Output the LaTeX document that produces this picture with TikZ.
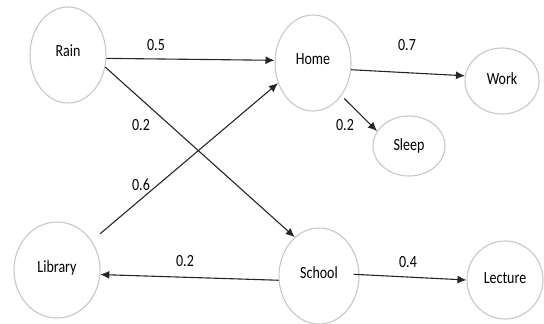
\documentclass[tikz,border=0pt]{standalone}
\usepackage{fontspec}
\usepackage{graphicx}
\setmainfont{Carlito}
\usetikzlibrary{shapes.geometric,arrows.meta}
\newcommand{\tall}[1]{\scalebox{1}[1.22]{#1}}
\begin{document}
\begin{tikzpicture}[x=1pt,y=-1pt,
  state/.style={ellipse,draw=black!22,line width=1.1pt,inner sep=0pt,font=\fontsize{14}{16}\selectfont},
  link/.style={draw=black!85,line width=1.1pt,-{Latex[length=9pt,width=8pt]}},
  wt/.style={font=\fontsize{14}{16}\selectfont,inner sep=0pt}]
\useasboundingbox (0,0) rectangle (544,324);
\node[state,minimum width=76pt,minimum height=96pt] (rain) at (68,55) {\raisebox{8pt}{\tall{Rain}}};
\node[state,minimum width=76pt,minimum height=96pt] (home) at (313,63) {\raisebox{8pt}{\tall{Home}}};
\node[state,minimum width=74pt,minimum height=66pt] (work) at (502,81) {\raisebox{5pt}{\tall{Work}}};
\node[state,minimum width=72pt,minimum height=60pt] (sleep) at (409,146) {\raisebox{3pt}{\tall{Sleep}}};
\node[state,minimum width=86pt,minimum height=96pt] (library) at (57,270) {\raisebox{6pt}{\tall{Library}}};
\node[state,minimum width=80pt,minimum height=96pt] (school) at (319,276) {\raisebox{6pt}{\tall{School}}};
\node[state,minimum width=76pt,minimum height=78pt] (lecture) at (505,280) {\raisebox{4pt}{\tall{Lecture}}};

\draw[link] (rain.-5) -- (home.176);
\draw[link] (rain.-18) -- (school.122);
\draw[link,shorten <=11pt] (library.40) -- (home.210);
\draw[link] (home.-10) -- (work.172);
\draw[link,shorten <=4pt] (home.-49) -- (sleep.155);
\draw[link] (school.186) -- (library.-6);
\draw[link,shorten <=-6pt] (school.2) -- (lecture.180);

\node[wt] (w1) at (156,45) {\tall{0.5}};
\node[wt] (w2) at (141,125) {\tall{0.2}};
\node[wt] (w3) at (141,185) {\tall{0.6}};
\node[wt] (w4) at (407,45) {\tall{0.7}};
\node[wt] (w5) at (345,125) {\tall{0.2}};
\node[wt] (w6) at (185,261) {\tall{0.2}};
\node[wt] (w7) at (408,262) {\tall{0.4}};
\end{tikzpicture}
\end{document}
